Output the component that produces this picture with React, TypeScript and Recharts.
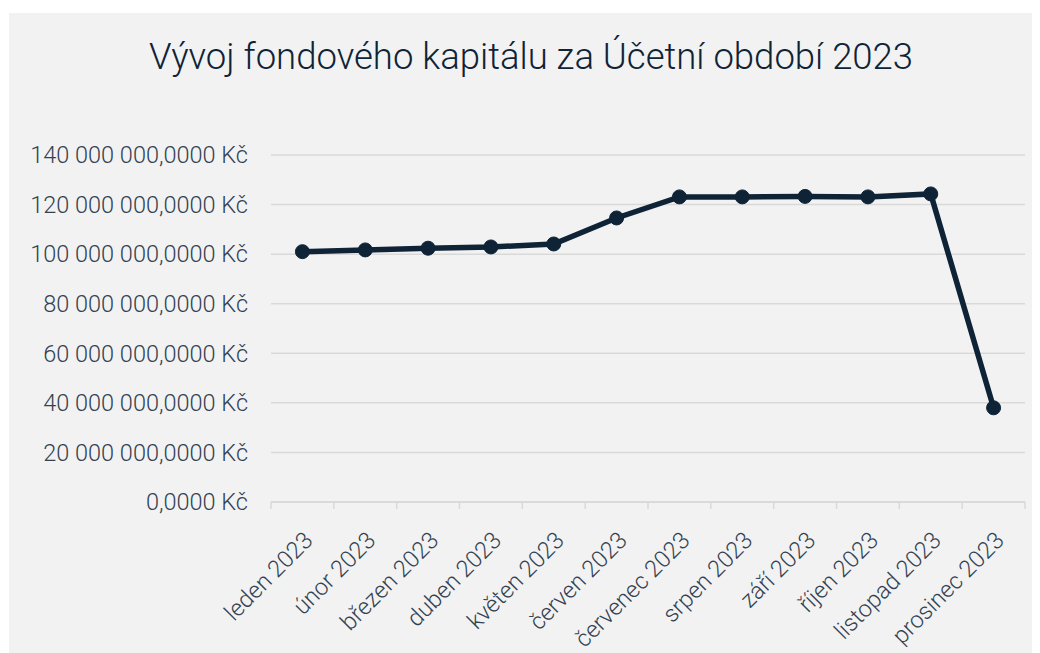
import React from "react";
import { LineChart, Line, XAxis, YAxis, CartesianGrid } from "recharts";

const months = [
  "leden 2023",
  "únor 2023",
  "březen 2023",
  "duben 2023",
  "květen 2023",
  "červen 2023",
  "červenec 2023",
  "srpen 2023",
  "září 2023",
  "říjen 2023",
  "listopad 2023",
  "prosinec 2023",
];

// fondový kapitál v Kč
const capital = [
  101000000, 101700000, 102400000, 102900000, 104100000, 114600000,
  123100000, 123100000, 123300000, 123100000, 124300000, 38000000,
];

const yTicks = [0, 20000000, 40000000, 60000000, 80000000, 100000000, 120000000, 140000000];

const chartData = months.map((m, i) => ({ month: m, value: capital[i] }));

const FONT = "Roboto, 'Noto Sans', sans-serif";
const INK = "#0f2337";
const LABEL = "#334252";
const GRID = "#d9d9d9";
const X_LABEL_GAP = 28;

const formatKc = (v: number) => {
  const s = Math.round(v).toString().replace(/\B(?=(\d{3})+(?!\d))/g, " ");
  return `${s},0000 Kč`;
};

const MonthTick = (props: any) => {
  const { x, y, payload, index } = props;
  const half = payload?.offset || 31.4;
  const axisY = y - X_LABEL_GAP;
  return (
    <g>
      <line x1={x - half} y1={axisY} x2={x - half} y2={axisY + 7} stroke={GRID} strokeWidth={1.5} />
      {index === months.length - 1 && (
        <line x1={x + half} y1={axisY} x2={x + half} y2={axisY + 7} stroke={GRID} strokeWidth={1.5} />
      )}
      <text
        x={x}
        y={y}
        dy="0.71em"
        transform={`rotate(-45 ${x} ${y})`}
        textAnchor="end"
        fill={LABEL}
        fontSize={23.5}
        fontWeight={300}
        fontFamily={FONT}
      >
        {payload.value}
      </text>
    </g>
  );
};

export default function App() {
  return (
    <div
      style={{
        position: "relative",
        width: 1030,
        height: 640,
        margin: "5px 0 0 1px",
        background: "#f2f2f2",
        fontFamily: FONT,
      }}
    >
      <div
        style={{
          position: "absolute",
          top: 22,
          left: 7,
          width: 1030,
          textAlign: "center",
          fontSize: 36.5,
          fontWeight: 300,
          color: INK,
        }}
      >
        Vývoj fondového kapitálu za Účetní období 2023
      </div>
      <LineChart
        width={1030}
        height={640}
        data={chartData}
        margin={{ top: 142, right: 14, left: 0, bottom: 0 }}
      >
        <CartesianGrid horizontal vertical={false} stroke={GRID} strokeWidth={1.5} />
        <XAxis
          dataKey="month"
          scale="band"
          interval={0}
          height={151}
          tickSize={0}
          tickMargin={X_LABEL_GAP}
          axisLine={{ stroke: GRID, strokeWidth: 1.5 }}
          tickLine={false}
          tick={<MonthTick />}
        />
        <YAxis
          width={262}
          domain={[0, 140000000]}
          ticks={yTicks}
          tickFormatter={formatKc}
          axisLine={false}
          tickLine={false}
          tickMargin={17}
          tick={{ fill: LABEL, fontSize: 23.5, fontWeight: 300, fontFamily: FONT }}
        />
        <Line
          type="linear"
          dataKey="value"
          stroke={INK}
          strokeWidth={5.5}
          dot={{ r: 7, fill: INK, stroke: INK, strokeWidth: 1 }}
          isAnimationActive={false}
        />
      </LineChart>
    </div>
  );
}
